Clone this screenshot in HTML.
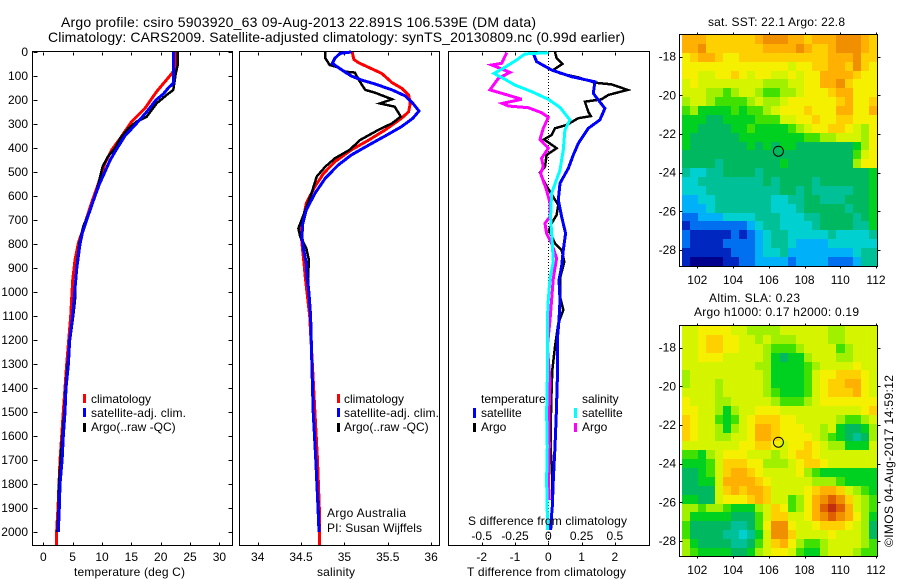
<!DOCTYPE html>
<html lang="en">
<head>
<meta charset="utf-8">
<title>Argo profile csiro 5903920_63</title>
<style>
html,body{margin:0;padding:0;background:#fff;width:900px;height:580px;overflow:hidden}
svg{display:block;font-family:"Liberation Sans",Arial,sans-serif;font-size:12px;fill:#000}
text{fill:#000}
.l{shape-rendering:crispEdges;stroke:#000;stroke-width:1;fill:none}
.p{fill:none;stroke-linejoin:miter;shape-rendering:crispEdges}
</style>
</head>
<body>
<svg id="chart" width="900" height="580" viewBox="0 0 900 580" xmlns="http://www.w3.org/2000/svg">
<text x="61" y="27" font-size="14" textLength="475" lengthAdjust="spacing">Argo profile: csiro 5903920_63 09-Aug-2013 22.891S 106.539E (DM data)</text>
<text x="48" y="42" font-size="14" textLength="577" lengthAdjust="spacing">Climatology: CARS2009. Satellite-adjusted climatology: synTS_20130809.nc (0.99d earlier)</text>

<g id="layer-maps"></g>
<g id="layer-profiles"></g>

<text x="74" y="576" textLength="111" lengthAdjust="spacing">temperature (deg C)</text>
<text x="317" y="576" textLength="38" lengthAdjust="spacing">salinity</text>
<text x="467" y="576" textLength="159" lengthAdjust="spacing">T difference from climatology</text>
<text x="468" y="525" textLength="159" lengthAdjust="spacing">S difference from climatology</text>

<g>
<rect x="83" y="394" width="3" height="9" fill="#f00"/>
<text x="91" y="403">climatology</text>
<rect x="83" y="408" width="3" height="9" fill="#00f"/>
<text x="91" y="417" textLength="95" lengthAdjust="spacing">satellite-adj. clim.</text>
<rect x="83" y="423" width="3" height="9" fill="#000"/>
<text x="91" y="431">Argo(..raw -QC)</text>
</g>
<g>
<rect x="337" y="394" width="3" height="9" fill="#f00"/>
<text x="344" y="403">climatology</text>
<rect x="337" y="408" width="3" height="9" fill="#00f"/>
<text x="344" y="417" textLength="95" lengthAdjust="spacing">satellite-adj. clim.</text>
<rect x="337" y="423" width="3" height="9" fill="#000"/>
<text x="344" y="431">Argo(..raw -QC)</text>
</g>
<text x="327" y="517" textLength="79" lengthAdjust="spacing">Argo Australia</text>
<text x="327" y="532" textLength="95" lengthAdjust="spacing">PI: Susan Wijffels</text>

<g>
<text x="481" y="403">temperature</text>
<rect x="473" y="408" width="3" height="10" fill="#00f"/>
<text x="481" y="417">satellite</text>
<rect x="473" y="423" width="3" height="9" fill="#000"/>
<text x="481" y="431">Argo</text>
<text x="582" y="403">salinity</text>
<rect x="574" y="408" width="3" height="10" fill="#0ff"/>
<text x="582" y="417">satellite</text>
<rect x="574" y="423" width="3" height="9" fill="#f0f"/>
<text x="582" y="431">Argo</text>
</g>

<text x="708" y="26" textLength="137" lengthAdjust="spacing">sat. SST: 22.1 Argo: 22.8</text>
<text x="709" y="302" textLength="91" lengthAdjust="spacing">Altim. SLA: 0.23</text>
<text x="694" y="316" textLength="165" lengthAdjust="spacing">Argo h1000: 0.17 h2000: 0.19</text>
<text transform="translate(893,547) rotate(-90)" textLength="172" lengthAdjust="spacing">©IMOS 04-Aug-2017 14:59:12</text>
</svg>

<script>
/* ---------- depth axis ---------- */
const depthTicks = [0,100,200,300,400,500,600,700,800,900,1000,1100,1200,1300,1400,1500,1600,1700,1800,1900,2000];

/* ---------- temperature panel ---------- */
const tempTicks = [0,5,10,15,20,25,30];
const tempClimDepth = [0,61,89,165,235,290,360,408,464,547,630,714,797,867,950,1026,1100,1200,1300,1400,1500,1600,1700,1800,1900,2000,2055];
const tempClim = [22.7,22.7,21.9,19.3,17.3,15.05,13.1,11.65,10.5,9.4,8.2,7.1,5.97,5.4,5.0,4.83,4.66,4.32,3.98,3.7,3.4,3.13,2.85,2.67,2.5,2.27,2.27];
const tempArgoDepth = [0,55,90,158,179,214,270,290,318,360,401,436,478,533,575,658,728,797,867,978,1033,1100,1200,1300,1400,1500,1600,1700,1800,1900,2000];
const tempArgo = [22.9,22.9,22.55,22.15,21.0,19.3,17.6,15.9,14.5,13.1,12.2,11.0,10.1,9.55,9.1,7.95,6.8,6.15,5.8,5.45,5.4,5.1,4.55,4.15,3.8,3.6,3.25,2.95,2.67,2.6,2.4];
const tempSatDepth = [0,130,150,175,200,250,300,350,400,450,500,550,600,650,700,750,800,900,1000,1100,1200,1300,1400,1500,1600,1700,1800,1900,2000];
const tempSat = [22.15,22.15,21.3,20.45,19.2,17.6,15.8,13.9,12.6,11.4,10.5,9.55,8.8,8.1,7.4,6.7,6.25,5.7,5.35,5.0,4.5,4.27,3.87,3.7,3.4,3.2,2.85,2.73,2.56];

/* ---------- salinity panel ---------- */
const salTicks = [34,34.5,35,35.5,36];
const salClimDepth = [0,31,44,64,89,128,151,179,214,249,276,325,367,408,457,506,561,630,686,742,797,867,943,1100,1367,1500,1700,1900,2000,2055];
const salClim = [35.09,35.11,35.16,35.28,35.43,35.55,35.66,35.74,35.76,35.74,35.66,35.47,35.28,35.08,34.89,34.76,34.66,34.56,34.53,34.5,34.51,34.53,34.55,34.6,34.64,34.66,34.69,34.71,34.715,34.715];
const salArgoDepth = [0,26,54,64,82,86,124,158,169,197,214,228,269,297,325,367,408,443,478,519,589,658,735,769,818,867,943,1000,1100,1367,1500,1700,1900,2000];
const salArgo = [34.78,34.78,34.83,34.93,35.01,35.12,35.18,35.24,35.35,35.55,35.41,35.58,35.65,35.55,35.39,35.18,35.06,34.89,34.78,34.68,34.62,34.55,34.47,34.49,34.56,34.59,34.58,34.59,34.61,34.63,34.64,34.67,34.7,34.71];
const salSatDepth = [0,6,26,47,75,100,117,133,158,183,214,246,276,311,350,388,429,471,526,589,658,714,769,825,881,943,1000,1100,1367,1500,1700,1900,2000];
const salSat = [35.08,34.95,34.89,34.86,34.97,35.08,35.2,35.35,35.55,35.7,35.79,35.86,35.79,35.66,35.47,35.28,35.08,34.93,34.78,34.66,34.56,34.52,34.51,34.53,34.56,34.57,34.59,34.61,34.63,34.64,34.67,34.695,34.707];

/* ---------- difference panel ---------- */
const tDiffTicks = [-2,-1,0,1,2];
const sDiffTicks = [-0.5,-0.25,0,0.25,0.5];
const sDiffTickLabels = ["-0.5","-0.25","0","0.25","0.5"];
const tDiffArgoDepth = [0,26,50,75,89,106,128,135,158,179,197,207,249,267,276,304,318,346,364,401,429,478,503,547,589,637,679,714,742,797,825,874,943,1019,1075,1131,1228,1325,1408,1506,1644,1783,1894,1985];
const tDiffArgo = [0.2,0.25,0.42,0.15,0.35,0.9,1.4,1.9,2.38,1.8,1.6,1.1,1.2,1.28,0.9,0.55,0.2,0.1,-0.13,0.25,-0.05,-0.1,-0.25,-0.1,0.08,0.3,0.25,0.1,0.02,0.2,0.4,0.48,0.35,0.35,0.45,0.3,0.2,0.12,0.1,0.08,0.07,0.12,0.12,0.08];
const tDiffSatDepth = [6,40,75,103,124,172,200,235,283,318,381,429,485,547,617,686,756,825,894,950,1033,1117,1200,1367,1506,1644,1783,1894,1992];
const tDiffSat = [-0.45,-0.35,0.1,0.7,1.4,1.35,1.5,1.7,1.55,1.2,0.9,0.75,0.6,0.35,0.3,0.4,0.52,0.45,0.4,0.32,0.35,0.32,0.27,0.27,0.24,0.2,0.15,0.12,0.06];
const sDiffSatDepth = [3,8,33,68,89,110,138,165,197,231,283,325,408,492,589,686,797,874,943,1033,1117,1228,1367,1506,1644,1783,1922,1992];
const sDiffSat = [0,-0.175,-0.2375,-0.3375,-0.4075,-0.3375,-0.25,-0.125,0,0.0875,0.1625,0.125,0.1125,0.0875,0.025,0.0175,0.03,0.0375,0.0125,0,-0.0075,-0.005,-0.0075,-0.0125,-0.0075,-0.0125,-0.0075,-0.005];
const sDiffArgoDepth = [3,47,54,68,85,110,158,172,197,214,225,232,253,272,318,364,401,443,478,506,575,631,686,714,756,797,860,943,1033,1117,1228,1367,1506,1644,1783,1867];
const sDiffArgo = [-0.3125,-0.35,-0.425,-0.3625,-0.2875,-0.375,-0.4375,-0.35,-0.2,-0.345,-0.3,-0.15,-0.05,0,-0.0375,-0.0625,0,-0.05,-0.0375,-0.0575,-0.0125,0.0125,0.0125,-0.025,-0.0125,0.025,0.0625,0.0375,0.025,0.0125,-0.0075,0.0125,0.005,0.0075,0,0.0075];

/* ---------- maps ---------- */
const lonTicks = [102,104,106,108,110,112];
const latTicks = [-18,-20,-22,-24,-26,-28];
const profileLon = 106.539;
const profileLat = -22.891;
const colorLevels = ["#00008c","#0028c0","#0070f0","#00b0f8","#00d0d0","#00c098","#00b860","#00d020","#40e000","#a0f000","#d4f400","#f4f000","#ffd000","#ffb000","#f09000","#e06000","#c03010"];
const sstLevels = [
[13,13,13,12,12,12,12,12,12,13,14,14,14,13,13,12,13,13,13,14,14,14,13,12],
[13,13,14,12,12,12,12,12,12,12,13,13,13,13,14,13,12,12,13,14,14,14,13,12],
[11,12,13,13,12,11,11,12,12,12,12,12,12,12,12,12,12,12,13,13,13,14,12,12],
[11,11,11,11,11,11,11,11,11,11,11,11,11,10,11,11,12,12,13,13,12,14,12,11],
[11,11,10,10,11,11,12,11,10,11,11,10,10,11,10,11,11,13,13,13,13,12,11,11],
[10,11,10,10,10,10,10,10,10,10,9,9,9,10,10,11,11,13,13,14,12,11,11,11],
[10,10,10,9,9,8,9,10,10,9,8,8,9,9,10,11,11,11,12,13,13,11,11,11],
[9,10,10,9,8,8,8,8,9,10,9,9,10,11,11,11,11,11,11,12,13,11,11,12],
[8,9,7,7,7,7,8,7,8,8,9,10,11,11,11,12,11,11,11,13,13,11,11,13],
[7,7,7,6,6,7,7,7,7,8,8,8,10,10,11,11,12,11,11,12,12,11,11,11],
[7,7,6,6,6,6,7,7,8,7,7,7,7,8,9,10,11,11,12,12,11,10,9,11],
[7,6,6,6,6,6,6,7,7,7,7,7,7,7,7,8,8,9,9,10,10,10,9,11],
[7,6,6,6,6,6,6,6,7,6,7,6,7,7,6,6,6,6,6,6,6,7,9,11],
[6,6,6,6,6,6,6,6,6,6,6,6,6,6,6,6,6,6,6,6,6,8,10,11],
[6,6,6,6,5,6,6,6,6,6,6,6,7,6,6,6,6,6,6,6,6,9,11,11],
[5,4,4,5,5,6,6,6,6,5,6,6,6,6,6,6,6,6,6,6,6,6,6,7],
[4,4,5,5,5,5,5,5,5,5,6,5,6,6,6,6,5,6,6,6,6,6,6,7],
[4,4,4,5,5,5,5,5,5,5,5,5,6,6,5,6,5,5,5,5,5,6,6,7],
[3,3,4,4,5,5,5,5,5,5,5,4,4,5,5,6,6,5,5,5,6,6,6,7],
[3,3,3,4,5,5,5,5,5,5,5,4,4,4,5,6,6,6,6,6,5,6,6,7],
[2,2,3,3,3,4,4,4,4,5,5,5,4,4,4,5,5,6,6,6,6,5,6,7],
[1,2,2,2,2,2,2,2,3,4,5,5,4,4,4,4,5,6,6,6,6,5,5,7],
[2,1,1,1,1,1,2,1,2,3,4,5,5,4,4,4,4,4,5,4,4,4,4,5],
[2,1,1,1,1,2,2,2,2,3,4,5,5,4,3,3,3,3,4,4,4,4,4,4],
[1,1,1,1,1,1,2,2,2,3,4,4,5,3,3,3,3,3,3,3,3,4,5,5],
[1,0,0,0,0,1,1,2,2,3,3,3,3,2,3,3,3,3,2,2,2,3,5,5]
];
const slaLevels = [
[10,10,11,11,11,11,10,10,9,9,9,9,10,10,10,10,10,10,9,9,10,10,10,10],
[10,10,11,12,12,11,11,10,10,9,10,9,9,9,10,10,10,10,9,9,10,10,10,10],
[10,10,11,12,12,11,11,10,10,10,9,8,8,8,9,10,10,10,10,8,9,10,10,10],
[10,10,11,11,11,10,10,10,10,10,9,7,6,7,7,9,10,10,10,9,9,10,10,10],
[10,10,10,10,10,10,10,10,10,9,9,7,7,7,7,8,9,10,10,10,10,11,10,10],
[9,10,10,10,10,10,10,10,10,10,9,7,7,7,7,8,10,11,11,12,12,12,11,10],
[9,10,10,10,9,10,10,10,10,10,9,7,7,7,7,8,10,11,12,12,13,13,11,10],
[10,10,10,10,9,10,10,10,10,10,9,8,7,7,7,8,10,11,12,12,12,13,11,10],
[11,10,10,10,9,9,10,10,10,10,10,9,8,8,8,9,10,11,11,11,11,11,11,11],
[11,11,10,10,9,7,9,10,10,11,11,11,10,10,10,10,10,10,10,10,10,10,11,12],
[12,11,10,10,8,7,8,10,11,12,12,12,11,11,10,10,10,10,10,9,8,8,9,10],
[12,11,10,10,9,7,9,10,11,13,13,12,11,11,11,10,10,9,10,7,6,6,7,9],
[12,11,10,10,9,9,10,10,11,13,13,12,11,11,11,11,10,9,8,7,6,5,6,9],
[10,10,10,10,10,10,10,11,11,12,12,11,10,11,11,12,11,10,9,9,7,7,7,10],
[8,8,7,9,10,11,11,11,10,10,10,9,10,11,12,12,11,10,10,10,10,10,10,10],
[7,7,7,8,10,12,12,12,11,11,9,9,9,10,11,12,12,11,10,10,10,10,10,10],
[6,6,7,8,10,12,13,13,12,11,10,10,10,10,11,9,8,7,7,7,7,7,7,7],
[6,6,7,7,10,13,13,13,13,12,11,10,10,10,10,10,9,9,9,8,7,7,7,7],
[6,6,6,6,10,12,13,12,13,13,12,10,10,10,10,11,12,13,13,12,10,9,8,7],
[7,7,6,6,10,11,11,11,12,13,12,10,10,8,9,11,13,14,15,14,12,10,9,8],
[9,9,8,9,9,8,7,7,7,9,10,12,11,8,9,11,13,15,16,15,13,10,9,8],
[9,7,7,7,7,7,6,6,6,8,10,12,12,10,10,11,13,14,15,14,13,11,9,7],
[8,6,6,6,6,6,5,5,6,8,11,14,14,11,10,10,11,12,12,12,11,10,9,6],
[8,6,6,6,6,5,5,4,5,7,10,14,14,12,10,10,10,10,11,10,10,10,9,6],
[9,7,6,6,6,6,5,5,6,8,10,12,13,11,9,8,8,9,10,10,10,10,9,8],
[9,8,7,7,7,7,6,6,7,9,10,11,11,10,8,7,7,9,10,10,10,9,8,8]
];

/* ---------- scales ---------- */
const SVGNS = "http://www.w3.org/2000/svg";
function depthY(d){ return 52 + 0.24 * d; }
function tempX(t){ return 43.3 + 5.87 * t; }
function salX(s){ return 257.7 + 86.7 * (s - 34); }
function tDiffX(t){ return 548.3 + 33.3 * t; }
function sDiffX(s){ return 548.3 + 133.2 * s; }
function lonX(l){ return 697.3 + 17.87 * (l - 102); }
function latY(lat, top){ return top + 22.7 + 19.33 * (-18 - lat); }

function make(tag, attrs){
  const e = document.createElementNS(SVGNS, tag);
  for (const k in attrs) e.setAttribute(k, attrs[k]);
  return e;
}
const profileLayer = document.getElementById("layer-profiles");
const mapLayer = document.getElementById("layer-maps");

function drawSeries(name, depths, values, xf, color, width){
  const pts = values.map(function(v,i){ return xf(v).toFixed(1) + "," + depthY(depths[i]).toFixed(1); }).join(" ");
  const el = make("polyline", {points: pts, stroke: color, "stroke-width": width, class: "p"});
  
  
  profileLayer.appendChild(el);
}
function drawFrame(name, x0, x1, y0, y1, parent){
  const el = make("rect", {x: x0, y: y0, width: x1 - x0, height: y1 - y0, class: "l"});
  
  
  parent.appendChild(el);
}
function drawTick(name, x1, y1, x2, y2, parent){
  const el = make("line", {x1: Math.round(x1)+0.5, y1: Math.round(y1)+0.5, x2: Math.round(x2)+0.5, y2: Math.round(y2)+0.5, class: "l"});
  
  
  parent.appendChild(el);
}
function drawLabel(name, x, y, anchor, str, parent){
  const el = make("text", {x: x, y: y, "text-anchor": anchor});
  el.textContent = str;
  
  
  parent.appendChild(el);
}
function xAxis(name, ticks, xf){
  ticks.forEach(function(t){
    drawTick(name + "-top-tick", xf(t), 52, xf(t), 55, profileLayer);
    drawTick(name + "-bottom-tick", xf(t), 542, xf(t), 545, profileLayer);
    drawLabel(name + "-tick-label", xf(t), 561, "middle", String(t), profileLayer);
  });
}

/* ---------- heatmaps ---------- */
function drawHeatmap(name, levels, frameTop, frameBottom){
  const nr = levels.length, nc = levels[0].length;
  const lonStart = 101.144, lonEnd = 112.06;
  const latStart = -16.88, latEnd = -28.82;
  levels.forEach(function(row, r){
    row.forEach(function(v, c){
      const x0 = Math.round(lonX(lonStart + (lonEnd - lonStart) * c / nc));
      const x1 = Math.round(lonX(lonStart + (lonEnd - lonStart) * (c + 1) / nc));
      const y0 = Math.round(latY(latStart + (latEnd - latStart) * r / nr, frameTop));
      const y1 = Math.round(latY(latStart + (latEnd - latStart) * (r + 1) / nr, frameTop));
      const cell = make("rect", {x: x0, y: y0, width: x1 - x0, height: y1 - y0, fill: colorLevels[v], "shape-rendering": "crispEdges"});
      
      
      mapLayer.appendChild(cell);
    });
  });
  drawFrame(name + "-frame", 679.5, 877.5, frameTop + 0.5, frameBottom + 0.5, mapLayer);
  lonTicks.forEach(function(l){
    drawTick(name + "-lon-top-tick", lonX(l), frameTop - 2, lonX(l), frameTop, mapLayer);
    drawTick(name + "-lon-bottom-tick", lonX(l), frameBottom, lonX(l), frameBottom + 2, mapLayer);
    drawLabel(name + "-lon-label", lonX(l), frameBottom + 18, "middle", String(l), mapLayer);
  });
  latTicks.forEach(function(lat){
    const y = latY(lat, frameTop);
    drawTick(name + "-lat-left-tick", 679, y, 682, y, mapLayer);
    drawTick(name + "-lat-right-tick", 877, y, 880, y, mapLayer);
    drawLabel(name + "-lat-label", 676, y + 4, "end", String(lat), mapLayer);
  });
  const marker = make("circle", {cx: lonX(profileLon), cy: latY(profileLat, frameTop), r: 5, fill: "none", stroke: "#000", "stroke-width": 1});
  
  
  mapLayer.appendChild(marker);
}
drawHeatmap("sst-map", sstLevels, 34, 266);
drawHeatmap("sla-map", slaLevels, 325, 556);

/* ---------- temperature panel ---------- */
drawFrame("temperature-panel-frame", 32.5, 232.5, 51.5, 545.5, profileLayer);
depthTicks.forEach(function(d){
  const y = depthY(d);
  drawTick("depth-left-tick", 33, y, 37, y, profileLayer);
  drawTick("depth-right-tick", 228, y, 232, y, profileLayer);
  drawLabel("depth-tick-label", 28, y + 4, "end", String(d), profileLayer);
});
xAxis("temperature", tempTicks, tempX);
drawSeries("temperature-climatology-line", tempClimDepth, tempClim, tempX, "#f00", 3);
drawSeries("temperature-argo-line", tempArgoDepth, tempArgo, tempX, "#000", 2.5);
drawSeries("temperature-satellite-line", tempSatDepth, tempSat, tempX, "#00f", 3);

/* ---------- salinity panel ---------- */
drawFrame("salinity-panel-frame", 239.5, 439.5, 51.5, 545.5, profileLayer);
xAxis("salinity", salTicks, salX);
drawSeries("salinity-climatology-line", salClimDepth, salClim, salX, "#f00", 3);
drawSeries("salinity-argo-line", salArgoDepth, salArgo, salX, "#000", 2.5);
drawSeries("salinity-satellite-line", salSatDepth, salSat, salX, "#00f", 3);

/* ---------- difference panel ---------- */
drawFrame("difference-panel-frame", 448.5, 649.5, 51.5, 545.5, profileLayer);
xAxis("t-difference", tDiffTicks, tDiffX);
sDiffTicks.forEach(function(s, i){
  drawLabel("s-difference-tick-label", sDiffX(s), 540, "middle", sDiffTickLabels[i], profileLayer);
});
const zeroLine = make("line", {x1: 548.5, y1: 52, x2: 548.5, y2: 545, stroke: "#000", "stroke-width": 1, "stroke-dasharray": "1 2", "shape-rendering": "crispEdges"});


profileLayer.appendChild(zeroLine);
drawSeries("t-difference-argo-line", tDiffArgoDepth, tDiffArgo, tDiffX, "#000", 2.5);
drawSeries("t-difference-satellite-line", tDiffSatDepth, tDiffSat, tDiffX, "#00f", 3);
drawSeries("s-difference-argo-line", sDiffArgoDepth, sDiffArgo, sDiffX, "#f0f", 3);
drawSeries("s-difference-satellite-line", sDiffSatDepth, sDiffSat, sDiffX, "#0ff", 3);
</script>
</body>
</html>
